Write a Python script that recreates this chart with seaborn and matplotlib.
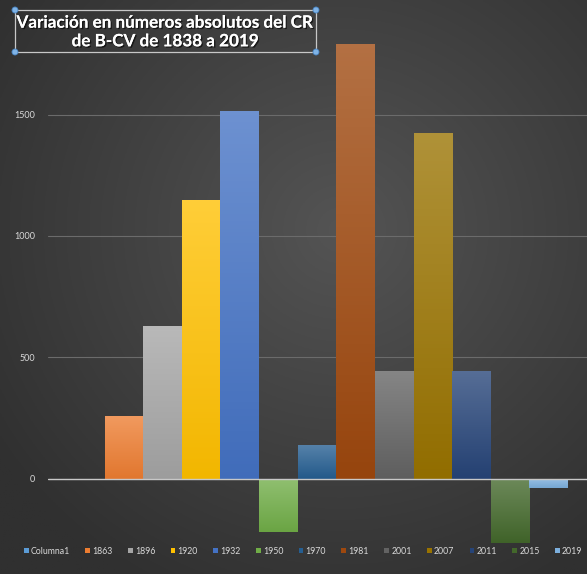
import numpy as np
import matplotlib
matplotlib.use("Agg")
import matplotlib.pyplot as plt
import matplotlib.colors as mcolors
from matplotlib.patches import Patch, Rectangle, Circle
import matplotlib.patheffects as pe
import seaborn as sns


# Data
series = ["Columna1", "1863", "1896", "1920", "1932", "1950", "1970",
          "1981", "2001", "2007", "2011", "2015", "2019"]
values = [0, 257, 628, 1148, 1514, -218, 137, 1790, 442, 1423, 442, -265, -39]
colors = ["#5B9BD5", "#ED7D31", "#A5A5A5", "#FFC000", "#4472C4", "#70AD47",
          "#255E91", "#9E480E", "#636363", "#997300", "#264478", "#43682B",
          "#7CAFDD"]
title = "Variación en números absolutos del CR\nde B-CV de 1838 a 2019"

W, H = 587, 574
sns.set_style("dark")
plt.rcParams["font.family"] = ["Lato", "DejaVu Sans"]

fig = plt.figure(figsize=(W / 100, H / 100), dpi=100)

# -------------------------------
# background: radial dark gradient
# -------------------------------
bg = fig.add_axes([0, 0, 1, 1], zorder=-10)
yy, xx = np.mgrid[0:1:300j, 0:1:300j]
r = np.sqrt(((xx - 0.58) / 0.9) ** 2 + ((yy - 0.6) / 0.9) ** 2)
r = np.clip(r / 0.78, 0, 1)
c_in = np.array(mcolors.to_rgb("#545454"))
c_out = np.array(mcolors.to_rgb("#303030"))
img = c_in[None, None, :] * (1 - r[..., None]) + c_out[None, None, :] * r[..., None]
bg.imshow(img, extent=[0, 1, 0, 1], origin="lower", aspect="auto")
bg.set_axis_off()

# -------------------------------
# main bar chart
# -------------------------------
ax = fig.add_axes([48 / W, (H - 545) / H, 1 - 48 / W, 545 / H])
ax.patch.set_alpha(0)

sns.barplot(
    x=series,
    y=values,
    hue=series,
    palette=colors,
    width=1.0,
    saturation=1,
    legend=False,
    ax=ax,
    zorder=3,
)

# vertical gradient on each bar
for patch, col in zip(ax.patches, colors):
    patch.set_edgecolor("none")
    patch.set_linewidth(0)
    x0, y0 = patch.get_x(), patch.get_y()
    w, h = patch.get_width(), patch.get_height()
    if h == 0:
        patch.set_visible(False)
        continue
    base = np.array(mcolors.to_rgb(col))
    top = base + (1 - base) * 0.22
    bot = base * 0.95
    t = np.linspace(0, 1, 100)[:, None]
    grad = bot[None, :] * (1 - t) + top[None, :] * t
    grad = grad[:, None, :]
    ylo, yhi = min(y0, y0 + h), max(y0, y0 + h)
    im = ax.imshow(grad, extent=[x0, x0 + w, ylo, yhi], origin="lower",
                   aspect="auto", zorder=4)
    im.set_clip_path(patch)

ax.set_xlim(-0.5 - 18 / 38.6, 12.5 + 19 / 38.6)
ax.set_ylim(-273, 1972)
ax.set_yticks([0, 500, 1000, 1500])
ax.set_xticks([])
ax.set_xlabel("")
ax.set_ylabel("")
ax.grid(axis="y", color="#6b6b6b", linewidth=0.8, zorder=1)
ax.axhline(0, color="#c8c8c8", linewidth=1.0, zorder=5)
ax.tick_params(axis="y", colors="#d9d9d9", labelsize=6.5, length=0, pad=9)
for s in ax.spines.values():
    s.set_visible(False)

# -------------------------------
# legend
# -------------------------------
handles = [Patch(facecolor=c, edgecolor="none", label=s)
           for s, c in zip(series, colors)]
fig.legend(
    handles=handles,
    loc="center",
    bbox_to_anchor=(303 / W, (H - 551) / H),
    ncol=13,
    frameon=False,
    fontsize=6.3,
    labelcolor="#d9d9d9",
    handlelength=0.55,
    handleheight=0.55,
    handletextpad=0.25,
    columnspacing=1.75,
)

# -------------------------------
# title with selection box
# -------------------------------
fig.text(
    165.5 / W, 1 - 32 / H, title,
    ha="center", va="center",
    fontsize=12.3, fontweight="bold", color="white",
    linespacing=1.2,
    path_effects=[pe.withSimplePatchShadow(offset=(1, -1),
                                           shadow_rgbFace="black", alpha=0.6),
                  pe.Normal()],
)
bx0, bx1 = 15 / W, 316 / W
by0, by1 = 1 - 52 / H, 1 - 10 / H
fig.add_artist(Rectangle((bx0, by0), bx1 - bx0, by1 - by0,
                         transform=fig.transFigure, fill=False,
                         edgecolor="#c8c8c8", linewidth=0.9))
for hx, hy in [(bx0, by0), (bx1, by0), (bx0, by1), (bx1, by1)]:
    fig.add_artist(Circle((hx * W, hy * H), 3.0, transform=None,
                          facecolor="#7fb3e6", edgecolor="#4a86c5",
                          linewidth=0.6))

fig.savefig("out.png", dpi=100)
